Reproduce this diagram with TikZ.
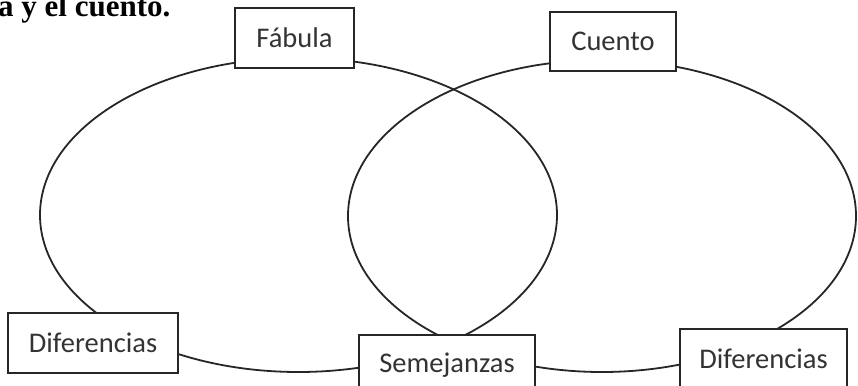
\documentclass[tikz,border=0pt]{standalone}
\usepackage{fontspec}
\setmainfont{Carlito}
\newfontfamily\titlefont{Liberation Serif}
\begin{document}
\begin{tikzpicture}[x=1pt,y=-1pt,
  ring/.style={line width=1.8pt,draw=black!85},
  label box/.style={draw=black!85,line width=1.6pt,fill=white,inner sep=0pt,
    font=\fontsize{28.5}{33}\selectfont,text=black!80}]
\useasboundingbox (0,0) rectangle (858,385);
\node[anchor=base west,inner sep=0pt,font=\titlefont\bfseries\fontsize{31}{35}\selectfont] (title) at (-2,17) {a y el cuento.};
\draw[ring] (298.5,215) ellipse [x radius=258.5,y radius=157];
\draw[ring] (602,216) ellipse [x radius=254,y radius=156];
\node[label box,minimum width=119,minimum height=60] (fabula) at (294.5,38) {Fábula};
\node[label box,minimum width=126,minimum height=59] (cuento) at (613,41.5) {Cuento};
\node[label box,minimum width=170,minimum height=60] (difl) at (93,343) {Diferencias};
\node[label box,minimum width=176,minimum height=60] (sem) at (447,365) {Semejanzas};
\node[label box,minimum width=167,minimum height=60] (difr) at (763.5,359) {Diferencias};
\end{tikzpicture}
\end{document}
